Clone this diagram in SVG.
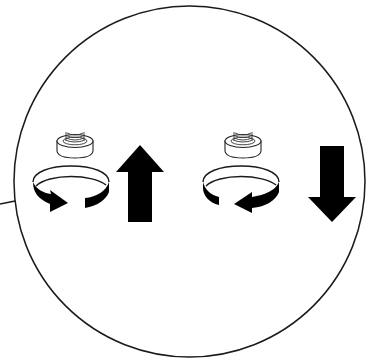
<svg xmlns="http://www.w3.org/2000/svg" width="379" height="358" viewBox="0 0 379 358">
<defs>
<style>.l{fill:none;stroke:#1a1a1a;stroke-width:1.4}.b{fill:#000}.w{fill:#fff;stroke:#222;stroke-width:1.1}.t{fill:none;stroke:#333;stroke-width:.9}</style>
<g id="nut">
<path class="w" d="M-18 0V10Q-17 17 0 17Q17 17 18 10V0Z"/>
<ellipse class="w" cx="0" cy="0" rx="18" ry="6.500"/>
<ellipse class="t" cx="0" cy="0" rx="12" ry="3.800"/>
<path class="t" d="M-9 -1V-9M9 -1V-9M-10 -1Q0 3 10 -1M-9 -3Q0 1 9 -3M-9 -5.500Q0 -1.500 9 -5.500M-8 -8Q0 -4 8 -8"/>
</g>
</defs>
<g id="lens">
<circle class="l" cx="189.500" cy="181.500" r="175.500" style="stroke-width:1.500"/>
</g>
<g id="connectors">
<path class="l" d="M0 204L15 201"/>
</g>
<g id="left-item">
<use href="#nut" transform="translate(75 141)"/>
<path class="l" d="M33 182C33 172 50 166 71 166C92 166 109 172 109 182"/>
<path class="l" d="M36 186C42 180 56 176.500 71 176.500C86 176.500 100 180 106 185"/>
<path class="b" d="M33 182C33 192 38 199 50 204L50 212L68 203L50 190L51 194C43 193 36 189 33 182Z"/>
<path class="b" d="M85 198C97 197 106 191 109 182V192C106 200 97 206 85 208Z"/>
<path class="b" d="M140 145L164 172H152V222H128V172H116Z"/>
</g>
<g id="right-item">
<use href="#nut" transform="translate(243 141)"/>
<path class="l" d="M203 182C203 172 220 166 241 166C262 166 279 172 279 182"/>
<path class="l" d="M206 186C212 180 226 176.500 241 176.500C256 176.500 270 180 276 185"/>
<path class="b" d="M203 182C205 190 211 195 219 197V205C209 203 203 195 203 188Z"/>
<path class="b" d="M279 182C276 190 265 195 252 197V192L234 204L252 213V208C266 207 276 200 279 192Z"/>
<path class="b" d="M320 146H344V197H356L332 222L308 197H320Z"/>
</g>
</svg>
